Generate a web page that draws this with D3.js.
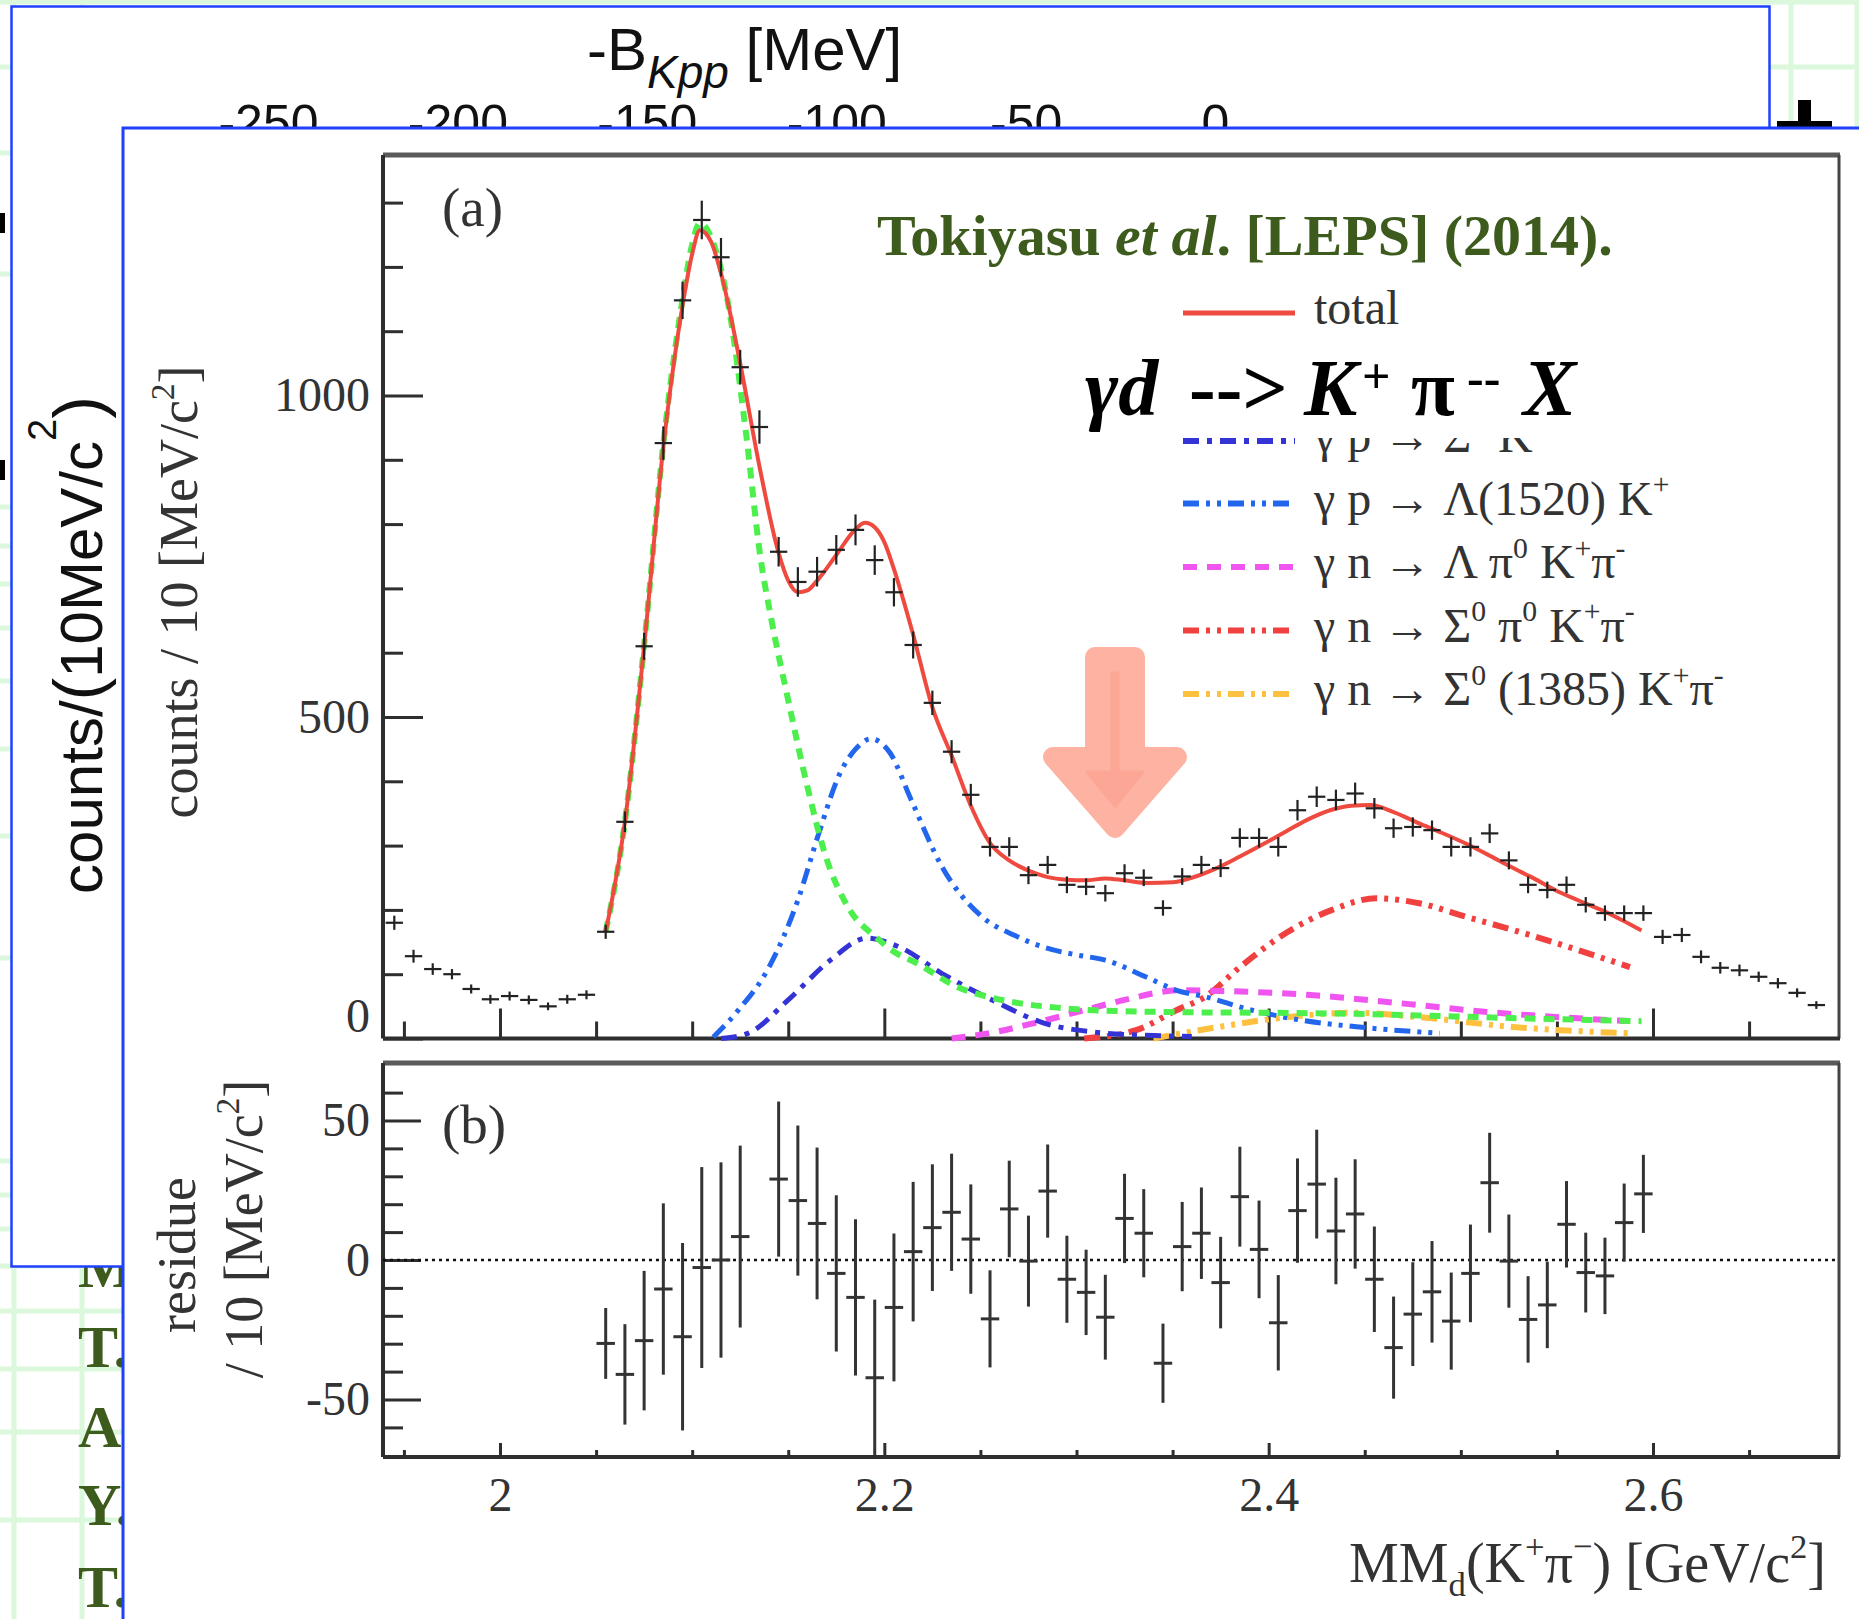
<!DOCTYPE html>
<html><head><meta charset="utf-8">
<script src="https://cdn.jsdelivr.net/npm/d3@7"></script>
<style>body{margin:0;background:#fff}svg{display:block}text{white-space:pre}</style>
</head><body>
<script>
// ---------------- DATA ----------------
const binCenters = [1.945,1.955,1.965,1.975,1.985,1.995,2.005,2.015,2.025,2.035,2.045,2.055,2.065,2.075,2.085,2.095,2.105,2.115,2.125,2.135,2.145,2.155,2.165,2.175,2.185,2.195,2.205,2.215,2.225,2.235,2.245,2.255,2.265,2.275,2.285,2.295,2.305,2.315,2.325,2.335,2.345,2.355,2.365,2.375,2.385,2.395,2.405,2.415,2.425,2.435,2.445,2.455,2.465,2.475,2.485,2.495,2.505,2.515,2.525,2.535,2.545,2.555,2.565,2.575,2.585,2.595,2.605,2.615,2.625,2.635,2.645,2.655,2.665,2.675,2.685];
const counts = [180,128,108,100,77,61,66,60,50,61,68,166,337,610,926,1148,1273,1215,1044,951,757,710,726,760,791,744,694,612,522,446,379,298,298,254,270,239,236,226,257,250,203,252,270,265,312,312,298,355,376,371,381,358,327,329,324,298,298,319,277,239,231,239,208,195,195,195,158,161,127,110,106,96,86,71,52];
const countErr = [11,10,9,8,7,7,7,7,6,7,7,11,16,21,26,29,30,30,27,26,23,23,23,23,24,23,22,21,19,18,17,15,15,14,14,13,13,13,14,13,12,13,14,14,15,15,15,16,16,16,17,16,15,15,15,15,15,15,14,13,13,13,12,12,12,12,11,11,10,9,9,8,8,7,6];

const residX = [2.055,2.065,2.075,2.085,2.095,2.105,2.115,2.125,2.145,2.155,2.165,2.175,2.185,2.195,2.205,2.215,2.225,2.235,2.245,2.255,2.265,2.275,2.285,2.295,2.305,2.315,2.325,2.335,2.345,2.355,2.365,2.375,2.385,2.395,2.405,2.415,2.425,2.435,2.445,2.455,2.465,2.475,2.485,2.495,2.505,2.515,2.525,2.535,2.545,2.555,2.565,2.575,2.585,2.595];
const residY = [-29.9,-41,-28.9,-10.4,-27.5,-2.7,0,8.4,29,21.3,13.1,-4.8,-13.4,-42.2,-17,3,11.6,17.1,7.5,-21.1,18.3,-0.4,24.7,-6.9,-11.6,-20.5,14.9,9.6,-37,4.8,9.6,-8.1,22.7,3.8,-22.5,17.7,27.2,10.4,16.5,-6.9,-31.4,-19.4,-11.4,-21.9,-4.8,27.7,-0.4,-21.3,-16.1,12.8,-4.5,-5.7,13.4,23.7];
const residErr = [12.7,18,25,30.7,33.6,36,35,32.6,27.8,26.9,27.2,28,28,28,26.5,25,22.7,21,19.6,17.4,17.3,16.3,16.7,15.6,15.3,15.2,16,15.8,14.2,16,16.4,16.4,17.9,17.5,17.1,18.7,19.5,19.1,19.6,18.9,18.3,18.6,18.2,17.4,17.5,17.9,16.7,15.5,15.5,15.5,14.3,13.7,14,14];

const totalX = [2.055,2.065,2.075,2.085,2.095,2.100,2.104,2.110,2.115,2.125,2.135,2.145,2.150,2.155,2.160,2.165,2.175,2.185,2.190,2.195,2.200,2.205,2.215,2.225,2.235,2.245,2.255,2.265,2.275,2.285,2.295,2.305,2.315,2.325,2.337,2.350,2.360,2.373,2.385,2.397,2.409,2.420,2.432,2.443,2.453,2.465,2.478,2.490,2.502,2.514,2.526,2.538,2.549,2.561,2.573,2.584,2.594];
const totalY = [166,337,610,920,1140,1220,1257,1238,1190,1050,890,755,712,694,697,712,752,792,802,795,772,730,628,515,440,362,304,277,261,251,247,246,249,246,242,243,250,265,283,302,322,340,355,362,363,352,335,320,304,286,267,249,231,215,200,184,168];

const l1405X = [2.055,2.065,2.075,2.085,2.095,2.100,2.104,2.110,2.119,2.128,2.1355,2.141,2.150,2.160,2.169,2.182,2.1955,2.205,2.217,2.238,2.255,2.270,2.290,2.309,2.352,2.400,2.450,2.500,2.550,2.594];
const l1405Y = [166,337,612,925,1150,1235,1268,1245,1138,942,749,655,526,391,288,200,158,135,117,80,64,55,48,44,41,40,38,34,30,27];

const l1520X = [2.111,2.124,2.140,2.155,2.166,2.177,2.185,2.193,2.203,2.214,2.230,2.251,2.268,2.283,2.300,2.315,2.336,2.352,2.367,2.390,2.416,2.450,2.489];
const l1520Y = [2,44,111,215,320,413,450,466,444,371,267,189,160,142,130,122,96,75,65,45,29,17,8];

const sigKX = [2.115,2.129,2.150,2.172,2.191,2.208,2.230,2.256,2.283,2.309,2.336,2.360];
const sigKY = [0,8,60,122,156,142,101,60,24,10,5,3];

const lamPiX = [2.235,2.254,2.278,2.304,2.325,2.354,2.374,2.420,2.468,2.515,2.588];
const lamPiY = [0,8,24,44,60,75,74,68,55,41,27];

const sigPiX = [2.304,2.331,2.352,2.367,2.385,2.409,2.433,2.456,2.479,2.503,2.527,2.550,2.588];
const sigPiY = [0,13,44,65,111,164,200,218,210,189,169,148,111];

const s1385X = [2.340,2.374,2.409,2.444,2.479,2.527,2.588];
const s1385Y = [0,18,33,40,33,18,8];

// legend entries (the second one lies completely under the overlaid reaction text)
const legendLabels = ["total","γ p → Λ(1405) K^{+}","γ p → Σ^{0} K^{+}","γ p → Λ(1520) K^{+}","γ n → Λ π^{0} K^{+}π^{-}","γ n → Σ^{0} π^{0} K^{+}π^{-}","γ n → Σ^{0} (1385) K^{+}π^{-}"];

const xMajor = [2.0,2.2,2.4,2.6];
const xMinor = [1.95,2.05,2.1,2.15,2.25,2.3,2.35,2.45,2.5,2.55,2.65];
const yaMajor = [0,500,1000];
const yaMinor = [100,200,300,400,600,700,800,900,1100,1200,1300];
const ybMajor = [-50,0,50];
const ybMinor = [-60,-40,-30,-20,-10,10,20,30,40,60];
const bkppTicks = [-250,-200,-150,-100,-50,0];
const sideInitials = ["M","T.","A","Y.","T."];

// ---------------- HELPERS ----------------
function parse(s){
  return s.split(/(\^\{[^}]*\}|_\{[^}]*\})/).filter(v=>v).map(v=>
    v.startsWith('^{')?{t:v.slice(2,-1),sup:true}:
    v.startsWith('_{')?{t:v.slice(2,-1),sub:true}:{t:v});
}
function rich(parent,x,y,parts,fs,attrs){
  const t=parent.append('text').attr('x',x).attr('y',y).attr('font-size',fs);
  for(const k in (attrs||{})) t.attr(k,attrs[k]);
  let shift=0;
  for(const p of parts){
    const target = p.sup ? -(p.up!==undefined?p.up:0.42*fs) : p.sub ? (p.down!==undefined?p.down:0.25*fs) : 0;
    const s=t.append('tspan').text(p.t);
    if(p.x!==undefined) s.attr('x',p.x);
    s.attr('dy',target-shift); shift=target;
    if(p.sup||p.sub) s.attr('font-size',p.size||0.62*fs);
    else if(p.size) s.attr('font-size',p.size);
    if(p.it) s.attr('font-style','italic');
  }
  return t;
}

// ---------------- SVG ----------------
const W=1859,H=1619;
const svg=d3.select('body').append('svg').attr('width',W).attr('height',H);
svg.append('rect').attr('width',W).attr('height',H).attr('fill','#fff');
const defs=svg.append('defs');
defs.append('clipPath').attr('id','remnant').append('rect').attr('x',1150).attr('y',438).attr('width',500).attr('height',40);

// slide background grid (light green)
const bgGridY=[2,67,153,274,507,546,584,628,681,749,836,958,1161,1195,1229,1266,1311,1369,1432,1520];
const bgGridX=[14,82,1791,1857];
bgGridY.forEach(y=>svg.append('line').attr('x1',0).attr('x2',W).attr('y1',y).attr('y2',y).attr('stroke','#dcf8dc').attr('stroke-width',5));
bgGridX.forEach(x=>svg.append('line').attr('x1',x).attr('x2',x).attr('y1',0).attr('y2',H).attr('stroke','#dcf8dc').attr('stroke-width',5));

// partial text of slide behind
const initBase=[1287,1367,1447,1525,1607];
sideInitials.forEach((s,i)=>svg.append('text').attr('x',78).attr('y',initBase[i]).text(s)
  .attr('font-family','Liberation Serif').attr('font-weight','bold').attr('font-size',60).attr('fill','#3d5b1d'));

// black fragments
svg.append('rect').attr('x',0).attr('y',213).attr('width',5).attr('height',20).attr('fill','#000');
svg.append('rect').attr('x',0).attr('y',460).attr('width',5).attr('height',20).attr('fill','#000');
svg.append('rect').attr('x',1798).attr('y',100).attr('width',13).attr('height',24).attr('fill','#000');
svg.append('rect').attr('x',1777).attr('y',121).attr('width',55).attr('height',7).attr('fill','#000');

// ---------------- PANEL A (behind) ----------------
const pA=svg.append('g');
pA.append('rect').attr('x',11.5).attr('y',6.5).attr('width',1758).attr('height',1260)
  .attr('fill','#fff').attr('stroke','#2040ff').attr('stroke-width',2.5);
rich(pA,587,70,[{t:'-B'},{t:'Kpp',sub:true,it:true,size:46,down:18},{t:' [MeV]'}],60,
  {'font-family':'Liberation Sans','fill':'#111'});
const bScale=d3.scaleLinear().domain([-250,0]).range([268,1215]);
const bAx=pA.append('g').attr('transform','translate(0,101)')
  .call(d3.axisBottom(bScale).tickValues(bkppTicks).tickSize(0).tickPadding(3).tickFormat(d=>String(d)));
bAx.select('.domain').remove();
bAx.selectAll('text').attr('font-family','Liberation Sans').attr('font-size',50).attr('fill','#111');
const yl=rich(pA,0,0,[{t:'counts/'},{t:'(',size:68},{t:'10MeV/c'},{t:'2',sup:true,size:40,up:46},{t:')',size:68}],60,
  {'font-family':'Liberation Sans','fill':'#111','text-anchor':'middle'});
yl.attr('transform','translate(102,645) rotate(-90)');

// ---------------- PANEL B (front) ----------------
const pB=svg.append('g');
pB.append('rect').attr('x',123).attr('y',128).attr('width',1800).attr('height',1600)
  .attr('fill','#fff').attr('stroke','#2040ff').attr('stroke-width',3);

const L=383,R=1839,TA=155,BA=1038.5,TB=1063,BB=1457;
const x=d3.scaleLinear().domain([2.0,2.6]).range([500,1653]);
const ya=d3.scaleLinear().domain([0,1000]).range([BA,395.5]);
const yb=d3.scaleLinear().domain([-50,50]).range([1399.5,1120.5]);
const axCol='#2e2e2e';
const serif='Liberation Serif';

function frame(top,bot){
  pB.append('line').attr('x1',L).attr('x2',R+1).attr('y1',top).attr('y2',top).attr('stroke','#5a5a5a').attr('stroke-width',5);
  pB.append('line').attr('x1',R).attr('x2',R).attr('y1',top).attr('y2',bot).attr('stroke','#444').attr('stroke-width',3);
  pB.append('line').attr('x1',L).attr('x2',L).attr('y1',top).attr('y2',bot).attr('stroke',axCol).attr('stroke-width',4);
  pB.append('line').attr('x1',L).attr('x2',R+1).attr('y1',bot).attr('y2',bot).attr('stroke',axCol).attr('stroke-width',4);
}
frame(TA,BA); frame(TB,BB);

function ticks(g){ g.select('.domain').remove(); g.selectAll('line').attr('stroke',axCol).attr('stroke-width',3); }
pB.append('g').attr('transform',`translate(0,${BA})`).call(d3.axisTop(x).tickValues(xMajor).tickSize(30).tickFormat('')).call(ticks);
pB.append('g').attr('transform',`translate(0,${BA})`).call(d3.axisTop(x).tickValues(xMinor).tickSize(17).tickFormat('')).call(ticks);
pB.append('g').attr('transform',`translate(0,${BB})`).call(d3.axisTop(x).tickValues(xMajor).tickSize(14).tickFormat('')).call(ticks);
pB.append('g').attr('transform',`translate(0,${BB})`).call(d3.axisTop(x).tickValues(xMinor).tickSize(7).tickFormat('')).call(ticks);
pB.append('g').attr('transform',`translate(${L},0)`).call(d3.axisRight(ya).tickValues(yaMajor).tickSize(40).tickFormat('')).call(ticks);
pB.append('g').attr('transform',`translate(${L},0)`).call(d3.axisRight(ya).tickValues(yaMinor).tickSize(20).tickFormat('')).call(ticks);
pB.append('g').attr('transform',`translate(${L},0)`).call(d3.axisRight(yb).tickValues(ybMajor).tickSize(38).tickFormat('')).call(ticks);
pB.append('g').attr('transform',`translate(${L},0)`).call(d3.axisRight(yb).tickValues(ybMinor).tickSize(20).tickFormat('')).call(ticks);

function labs(g){ g.select('.domain').remove(); g.selectAll('text').attr('font-family',serif).attr('font-size',48).attr('fill','#333'); }
const yaL=pB.append('g').attr('transform',`translate(${L},0)`).call(d3.axisLeft(ya).tickValues(yaMajor).tickSize(0).tickPadding(13).tickFormat(d=>String(d))).call(labs);
yaL.selectAll('.tick').filter(d=>d===0).select('text').attr('y',-22);
pB.append('g').attr('transform',`translate(${L},0)`).call(d3.axisLeft(yb).tickValues(ybMajor).tickSize(0).tickPadding(13).tickFormat(d=>String(d))).call(labs);
pB.append('g').attr('transform',`translate(0,${BB})`).call(d3.axisBottom(x).tickValues(xMajor).tickSize(0).tickPadding(20).tickFormat(d=>String(+d.toFixed(1)))).call(labs);

pB.append('line').attr('x1',L).attr('x2',R).attr('y1',yb(0)).attr('y2',yb(0)).attr('stroke','#111').attr('stroke-width',2.5).attr('stroke-dasharray','3,4');

pB.append('text').attr('x',442).attr('y',226).text('(a)').attr('font-family',serif).attr('font-size',55).attr('fill','#333');
pB.append('text').attr('x',442).attr('y',1143).text('(b)').attr('font-family',serif).attr('font-size',55).attr('fill','#333');

const t1=rich(pB,0,0,parse('counts / 10 [MeV/c^{2}]'),54,{'font-family':serif,'fill':'#333','text-anchor':'middle'});
t1.attr('transform','translate(197,592) rotate(-90)');
pB.append('text').attr('transform','translate(195,1255) rotate(-90)').attr('text-anchor','middle').text('residue')
  .attr('font-family',serif).attr('font-size',54).attr('fill','#333');
const t3=rich(pB,0,0,parse('/ 10 [MeV/c^{2}]'),54,{'font-family':serif,'fill':'#333','text-anchor':'middle'});
t3.attr('transform','translate(262,1229) rotate(-90)');
rich(pB,1826,1582,parse('MM_{d}(K^{+}π^{−}) [GeV/c^{2}]'),56,{'font-family':serif,'fill':'#333','text-anchor':'end'});

// ---------------- CURVES ----------------
const styles=[
  {c:'#ef4a3f',w:4,d:null},
  {c:'#4def4d',w:6,d:'11,8'},
  {c:'#3434d6',w:5,d:'16,8,5,8'},
  {c:'#2266ee',w:5,d:'16,7,4,7,4,7'},
  {c:'#f055f0',w:6,d:'14,10'},
  {c:'#f04040',w:6,d:'16,7,4,7,4,7'},
  {c:'#fdc13f',w:6,d:'16,7,4,7,4,7'}
];
const curveData=[[totalX,totalY],[l1405X,l1405Y],[sigKX,sigKY],[l1520X,l1520Y],[lamPiX,lamPiY],[sigPiX,sigPiY],[s1385X,s1385Y]];
const line=d3.line().x(d=>x(d[0])).y(d=>ya(d[1])).curve(d3.curveMonotoneX);
const cg=pB.append('g').attr('fill','none');
[6,5,4,3,2,1,0].forEach(i=>{
  const st=styles[i];
  const p=cg.append('path').datum(d3.zip(curveData[i][0],curveData[i][1])).attr('d',line)
    .attr('stroke',st.c).attr('stroke-width',st.w);
  if(st.d) p.attr('stroke-dasharray',st.d);
});

const dg=pB.append('g').attr('stroke','#222').attr('stroke-width',2.2);
binCenters.forEach((c,i)=>{
  dg.append('line').attr('x1',x(c)).attr('x2',x(c)).attr('y1',ya(counts[i]-countErr[i])).attr('y2',ya(counts[i]+countErr[i]));
  dg.append('line').attr('x1',x(c-0.0045)).attr('x2',x(c+0.0045)).attr('y1',ya(counts[i])).attr('y2',ya(counts[i]));
});
const rg=pB.append('g').attr('stroke','#333').attr('stroke-width',3);
residX.forEach((c,i)=>{
  const lo=Math.max(residY[i]-residErr[i],-70.5);
  rg.append('line').attr('x1',x(c)).attr('x2',x(c)).attr('y1',yb(lo)).attr('y2',yb(residY[i]+residErr[i]));
  rg.append('line').attr('x1',x(c-0.0048)).attr('x2',x(c+0.0048)).attr('y1',yb(residY[i])).attr('y2',yb(residY[i]));
});

// ---------------- LEGEND ----------------
const lg=pB.append('g');
legendLabels.forEach((lab,i)=>{
  if(i===1) return;                 // fully covered in the reference
  const y=313+63.5*i + (i===2?1:0);
  const st=styles[i];
  const grp=lg.append('g');
  if(i===2) grp.attr('clip-path','url(#remnant)');   // only the lower edge shows under the overlay
  const l=grp.append('line').attr('x1',1183).attr('x2',1295).attr('y1',y).attr('y2',y)
    .attr('stroke',st.c).attr('stroke-width',i===0?5:6);
  if(st.d) l.attr('stroke-dasharray',st.d);
  rich(grp,1314,y+11,parse(lab),48,{'font-family':serif,'fill':'#333'});
});
defs.select('#remnant rect').attr('x',1170);

rich(pB,877,255,[{t:'Tokiyasu '},{t:'et al',it:true},{t:'. [LEPS] (2014).'}],58,
  {'font-family':serif,'font-weight':'bold','fill':'#3d5b1d'});

rich(pB,1085,415,[
  {t:'γd',it:true,x:1085},{t:'-->',x:1189},{t:'K',it:true,x:1304},
  {t:'+',sup:true,x:1362,size:50,up:22},{t:'π',x:1411},{t:'--',sup:true,x:1467,size:50,up:20},{t:'X',it:true,x:1523}
],80,{'font-family':serif,'font-weight':'bold','fill':'#000'});

pB.append('path').attr('d','M1095,657 L1135,657 L1135,757 L1177,757 L1115,828 L1053,757 L1095,757 Z')
  .attr('fill','#feb2a1').attr('stroke','#feb2a1').attr('stroke-width',20).attr('stroke-linejoin','round');
pB.append('path').attr('d','M1112,673 L1118,673 L1118,772 L1143,772 L1115,806 L1087,772 L1112,772 Z')
  .attr('fill','#fca695').attr('stroke','#fca695').attr('stroke-width',3).attr('stroke-linejoin','round');
</script></body></html>
